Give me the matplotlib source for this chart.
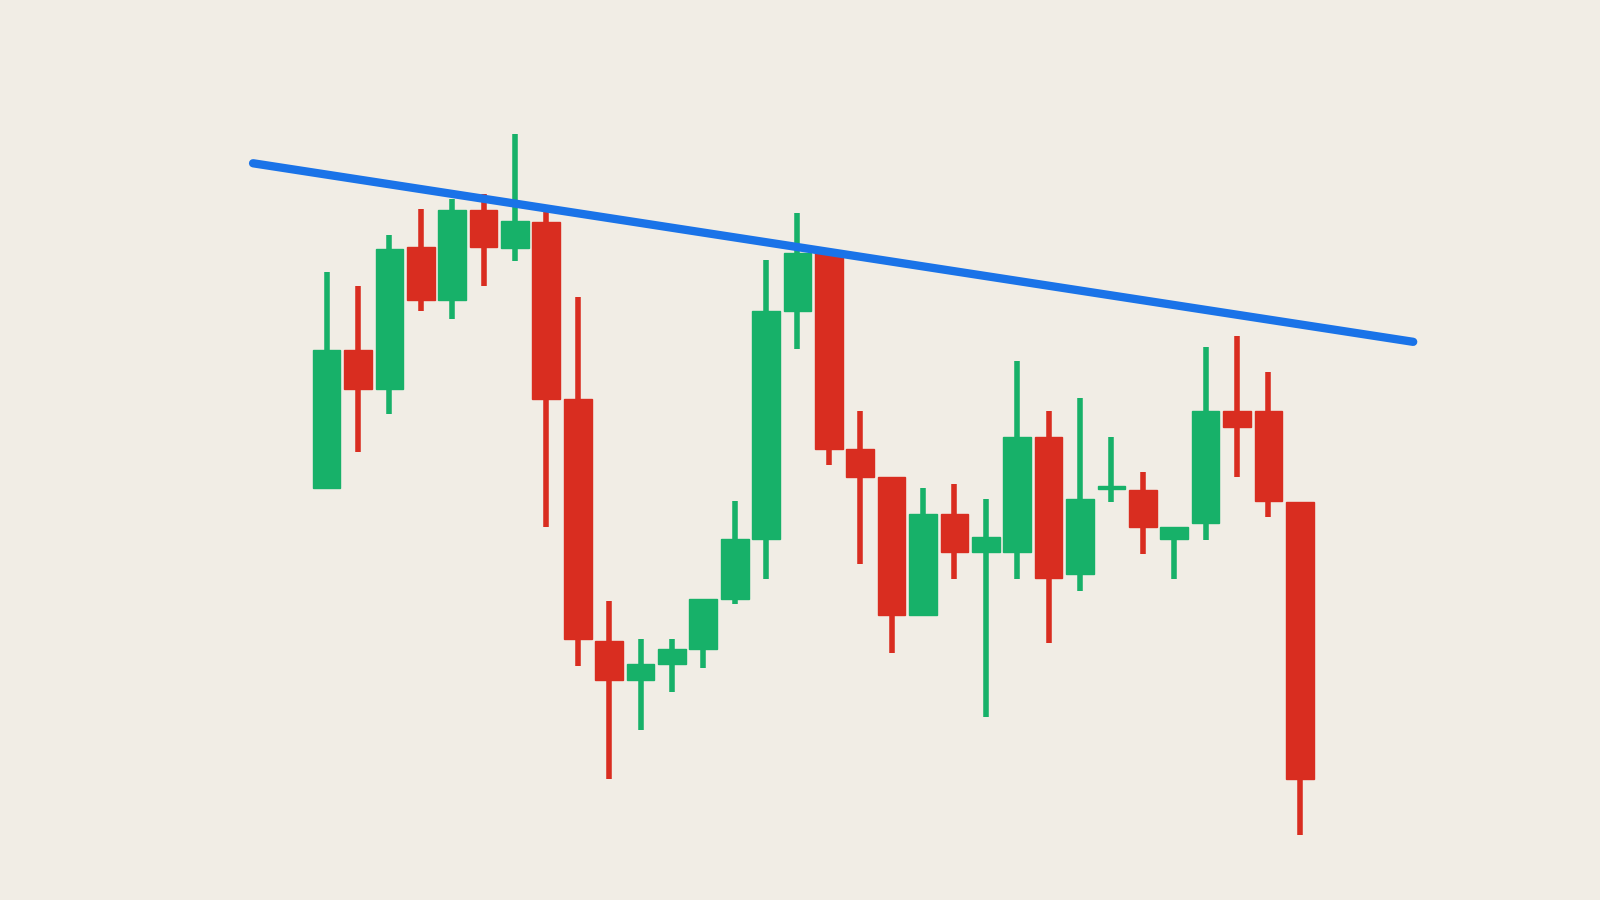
import matplotlib
matplotlib.use("Agg")
import matplotlib.pyplot as plt
from matplotlib.patches import Rectangle

# OHLC values (arbitrary price units)
opens  = [404, 539, 501, 640, 588, 676, 639, 664, 491, 254, 216, 231, 246, 295, 354, 577,
          634, 442, 415, 279, 378, 341, 341, 454, 319, 403, 402, 354, 369, 479, 479, 390]
closes = [539, 501, 638, 588, 676, 640, 665, 491, 256, 216, 231, 246, 295, 354, 577, 634,
          442, 415, 279, 378, 341, 356, 454, 316, 393, 405, 366, 366, 479, 464, 391, 119]
highs  = [615, 602, 652, 677, 687, 692, 751, 674, 591, 293, 256, 256, 295, 391, 627, 673,
          637, 479, 415, 404, 408, 393, 528, 479, 492, 454, 419, 366, 542, 553, 517, 390]
lows   = [404, 439, 476, 577, 569, 602, 626, 366, 229, 119, 167, 204, 227, 290, 315, 540,
          426, 329, 242, 279, 315, 179, 315, 252, 303, 390, 339, 315, 353, 415, 375, 64]

trend_x = [-2.34, 34.61]
trend_y = [722, 547]

GREEN = "#17b169"
RED = "#d92d20"
BG = "#f1ede5"
BLUE = "#1a73e8"

fig = plt.figure(figsize=(16, 9), dpi=100, facecolor=BG)
ax = fig.add_axes([0, 0, 1, 1])
ax.set_facecolor(BG)

for i, (o, c, h, l) in enumerate(zip(opens, closes, highs, lows)):
    col = GREEN if c >= o else RED
    ax.plot([i, i], [l, h], color=col, lw=4, solid_capstyle="butt", zorder=2)
    lo, hi = min(o, c), max(o, c)
    ax.add_patch(Rectangle((i - 0.44, lo), 0.88, max(hi - lo, 2.5), color=col, zorder=3))

ax.plot(trend_x, trend_y, color=BLUE, lw=6, solid_capstyle="round", zorder=4)

ax.set_xlim(-10.40, 40.56)
ax.set_ylim(0, 882)
ax.axis("off")
fig.savefig("out.png", dpi=100, facecolor=BG)
